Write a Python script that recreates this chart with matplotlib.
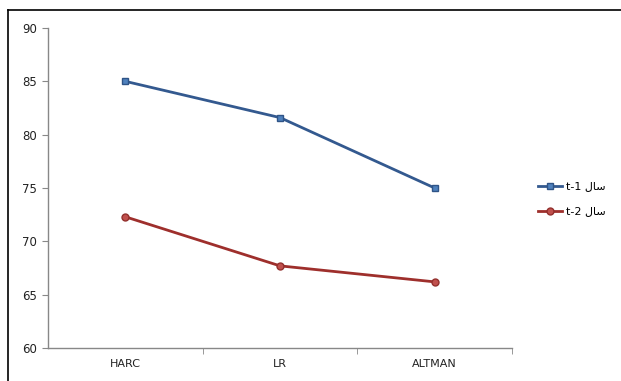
import matplotlib
matplotlib.use("Agg")
import matplotlib.pyplot as plt
from matplotlib.lines import Line2D
from matplotlib.ticker import FixedLocator, NullFormatter

categories = ["HARC", "LR", "ALTMAN"]
series_t1 = [85.0, 81.6, 75.0]
series_t2 = [72.3, 67.7, 66.2]
# "سال t-1" / "سال t-2" written in visual order with Arabic presentation forms
word = "\uFEDD\uFE8E\uFEB3"
labels = ["t-1 " + word, "t-2 " + word]
yticks = [60, 65, 70, 75, 80, 85, 90]

fig = plt.figure(figsize=(6.21, 3.81), dpi=100)
W, H = 621, 381
ax = fig.add_axes([48 / W, 1 - 348 / H, (512 - 48) / W, (348 - 28) / H])

x = list(range(len(categories)))
ax.plot(x, series_t1, color="#33598F", lw=2, marker="s", ms=5,
        mfc="#4F81BD", mec="#2F5487", mew=1, label=labels[0])
ax.plot(x, series_t2, color="#9E2F2C", lw=2, marker="o", ms=5,
        mfc="#C0504D", mec="#93302D", mew=1, label=labels[1])

ax.set_xlim(-0.5, len(categories) - 0.5)
ax.set_ylim(60, 90)
ax.set_yticks(yticks)
ax.set_xticks(x)
ax.set_xticklabels(categories)
ax.xaxis.set_minor_locator(FixedLocator([i + 0.5 for i in x]))
ax.xaxis.set_minor_formatter(NullFormatter())
ax.tick_params(axis="x", which="major", length=0, pad=8, labelsize=8, labelcolor="#222222")
ax.tick_params(axis="x", which="minor", length=4, color="#888888", direction="out")
ax.tick_params(axis="y", length=4, color="#888888", labelsize=8.5, labelcolor="#222222", pad=4)
for s in ["top", "right"]:
    ax.spines[s].set_visible(False)
for s in ["left", "bottom"]:
    ax.spines[s].set_color("#888888")
    ax.spines[s].set_linewidth(1)

leg = fig.legend(loc="center left", bbox_to_anchor=(528 / W, 1 - 199 / H),
                 frameon=False, handlelength=2.2, labelspacing=1.35,
                 handletextpad=0.3, prop={"family": "DejaVu Sans", "size": 8})

# outer frame: only left and top edges are visible in the reference
fig.add_artist(Line2D([8 / W, 8 / W], [0, 1 - 10 / H], transform=fig.transFigure,
                      color="#000000", lw=1.2))
fig.add_artist(Line2D([8 / W, 1], [1 - 10 / H, 1 - 10 / H], transform=fig.transFigure,
                      color="#000000", lw=1.2))

fig.savefig("out.png", dpi=100)
